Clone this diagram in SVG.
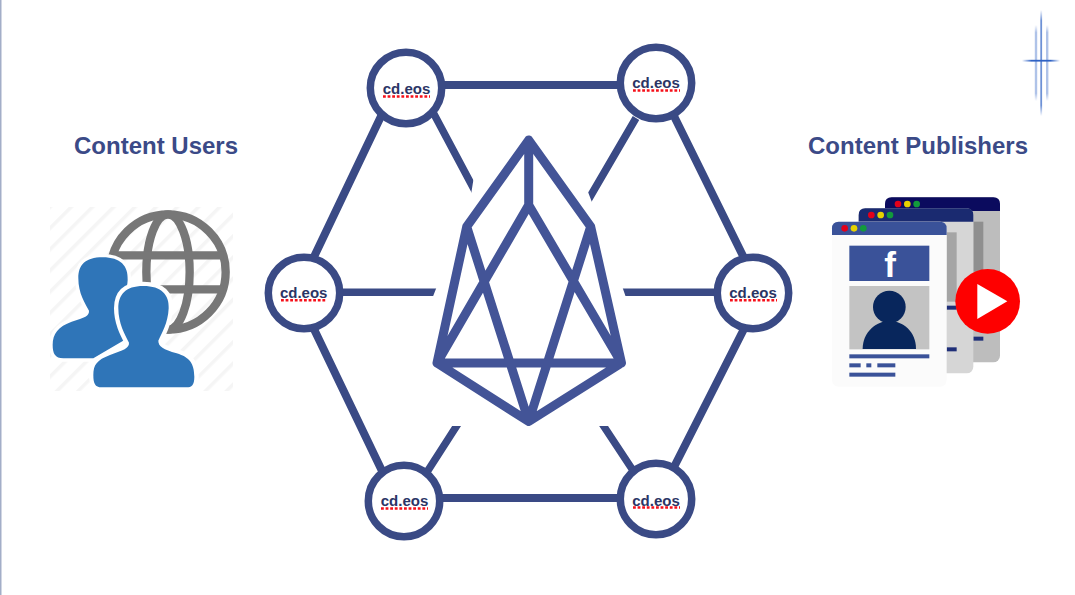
<svg xmlns="http://www.w3.org/2000/svg" width="1075" height="595" viewBox="0 0 1075 595">
<style>
.edge{stroke:#3a4a85;stroke-width:8;fill:none;stroke-linecap:butt}
.spoke{stroke-width:7.500}
.ring{fill:#fff;stroke:#3a4a85;stroke-width:7.500}
.lbl{font:bold 15px "Liberation Sans",Arial,sans-serif;fill:#2b3566;text-anchor:middle}
.squig{stroke:#f5101a;stroke-width:2.500;stroke-dasharray:2.800 1.800;fill:none}
.title{font:bold 24px "Liberation Sans",Arial,sans-serif;fill:#3b4a87;text-anchor:middle}
.eos{fill:none;stroke:#435497;stroke-width:9;stroke-linejoin:round;stroke-linecap:round}
.dotr{fill:#e2001a}.doty{fill:#e6d200}.dotg{fill:#129a3c}
.blue{fill:#3a5299}
</style>
<defs>
<pattern id="hatch" width="15" height="15" patternUnits="userSpaceOnUse" patternTransform="rotate(-45)">
<rect width="15" height="15" fill="#fff"/><rect width="15" height="3.500" fill="#f5f5f5"/>
</pattern>
<linearGradient id="fv" x1="0" y1="0" x2="0" y2="1"><stop offset="0" stop-color="#2f62c4" stop-opacity="0"/><stop offset=".1" stop-color="#2f62c4" stop-opacity=".7"/><stop offset=".9" stop-color="#2f62c4" stop-opacity=".7"/><stop offset="1" stop-color="#2f62c4" stop-opacity="0"/></linearGradient>
<linearGradient id="fh" x1="0" y1="0" x2="1" y2="0"><stop offset="0" stop-color="#2f62c4" stop-opacity="0"/><stop offset=".25" stop-color="#2f62c4"/><stop offset=".75" stop-color="#2f62c4"/><stop offset="1" stop-color="#2f62c4" stop-opacity="0"/></linearGradient>
<clipPath id="spokeclip"><path clip-rule="evenodd" d="M0 0H1075V595H0ZM474 176L470.500 198L436.700 287L432 299L430 426H630L626.500 299L622 286L593 205L586.500 188L528 130Z"/></clipPath>
</defs>
<rect width="1075" height="595" fill="#fff"/>
<rect x="0" y="0" width="1.500" height="595" fill="#a3aec8"/>
<g id="corner-mark">
<rect x="1040.300" y="10" width="1.800" height="106" fill="url(#fv)"/>
<rect x="1034.800" y="25" width="2.400" height="76" fill="url(#fv)" opacity=".55"/>
<rect x="1046" y="25" width="2.400" height="76" fill="url(#fv)" opacity=".55"/>
<rect x="1022" y="59.800" width="38" height="1.800" fill="url(#fh)"/>
</g>
<g id="connectors">
<path class="edge" d="M406 85H656M404 498H656M384 110L312 261M312 325L383 473M671 110L746 262M746 325L673 469"/>
<g clip-path="url(#spokeclip)">
<path class="edge spoke" d="M431 108.500L484 208M636 118L580 214M343 292.300H445M615 292.300H715M463 416L427 472M597 416L634 472"/>
</g>
</g>
<g id="eos-logo">
<path class="eos" d="M528.700 140L466.700 226.700L437 363L528.700 421.500L621.500 363L590.700 226.700ZM528.700 140V205L437 363H621.500L528.700 205M466.700 226.700L528.700 421.500L590.700 226.700"/>
</g>
<g id="node-top-left"><circle class="ring" cx="406" cy="88" r="35.700"/><text class="lbl" x="406.500" y="94">cd.eos</text><path class="squig" d="M383 96.500H430"/></g>
<g id="node-top-right"><circle class="ring" cx="656" cy="83" r="35.700"/><text class="lbl" x="656" y="88">cd.eos</text><path class="squig" d="M633 90.500H680"/></g>
<g id="node-left"><circle class="ring" cx="304" cy="293" r="35.700"/><text class="lbl" x="303.700" y="298">cd.eos</text><path class="squig" d="M281 300.300H327"/></g>
<g id="node-right"><circle class="ring" cx="753" cy="293" r="35.700"/><text class="lbl" x="753" y="298">cd.eos</text><path class="squig" d="M730 300.300H777"/></g>
<g id="node-bottom-left"><circle class="ring" cx="404" cy="501" r="35.700"/><text class="lbl" x="404.500" y="506">cd.eos</text><path class="squig" d="M381 508.500H428"/></g>
<g id="node-bottom-right"><circle class="ring" cx="656" cy="499" r="35.700"/><text class="lbl" x="656" y="506">cd.eos</text><path class="squig" d="M633 507.500H680"/></g>
<g id="content-users">
<text class="title" x="156" y="154">Content Users</text>
<rect x="50" y="207" width="183" height="184" fill="url(#hatch)"/>
<g transform="translate(30 190) scale(.33333)">
<g fill="none" stroke="#777" stroke-width="25">
<circle cx="414" cy="246" r="173"/>
<ellipse cx="414" cy="246" rx="65" ry="173"/>
<path d="M250 196H580M250 298H580"/>
</g>
<path d="M218 202C272 202 295 228 293 270C292 300 280 320 270 340L300 440L190 505L100 505C75 505 68 490 68 465C68 430 85 410 125 395C165 382 178 378 177 362C165 340 145 310 145 265C145 225 165 202 218 202Z" fill="#2f75b8" stroke="#fff" stroke-width="20" paint-order="stroke"/>
<path d="M340 288C395 288 418 315 416 355C414 400 395 430 385 452C385 470 400 478 440 490C480 503 492 520 493 560C493 585 485 592 470 592L215 592C195 592 190 580 190 555C190 525 200 510 240 495C280 480 298 475 297 458C285 435 265 400 265 355C265 315 285 288 340 288Z" fill="#2f75b8" stroke="#fff" stroke-width="26" paint-order="stroke"/>
</g>
</g>
<g id="content-publishers">
<text class="title" x="918" y="154">Content Publishers</text>
<g transform="translate(820 185) scale(.33333)">
<rect x="195" y="37" width="345" height="495" rx="20" fill="#bdbdbd"/>
<path d="M195 78V57Q195 37 215 37H520Q540 37 540 57V78Z" fill="#0b0b5e"/>
<rect x="460" y="110" width="30" height="150" fill="#8f8f8f"/>
<rect x="460" y="455" width="30" height="12" fill="#1f2f78"/>
<circle class="dotr" cx="234" cy="57" r="10"/><circle class="doty" cx="262" cy="57" r="10"/><circle class="dotg" cx="290" cy="57" r="10"/>
<rect x="116" y="70" width="344" height="495" rx="20" fill="#d6d6d6"/>
<path d="M116 110V90Q116 70 136 70H440Q460 70 460 90V110Z" fill="#1a2a70"/>
<rect x="380" y="142" width="30" height="208" fill="#a5a5a5"/>
<rect x="380" y="362" width="30" height="12" fill="#1f2f78"/>
<rect x="380" y="487" width="30" height="12" fill="#1f2f78"/>
<circle class="dotr" cx="154" cy="90" r="10"/><circle class="doty" cx="182" cy="90" r="10"/><circle class="dotg" cx="210" cy="90" r="10"/>
<rect x="36" y="110" width="344" height="495" rx="20" fill="#fbfbfb"/>
<path class="blue" d="M36 150V130Q36 110 56 110H360Q380 110 380 130V150Z"/>
<circle class="dotr" cx="74" cy="130" r="10"/><circle class="doty" cx="102" cy="130" r="10"/><circle class="dotg" cx="130" cy="130" r="10"/>
<rect class="blue" x="88" y="182" width="240" height="106"/>
<text x="210" y="276" font-family="Liberation Sans, Arial, sans-serif" font-weight="bold" font-size="105" fill="#fff" text-anchor="middle">f</text>
<rect x="88" y="303" width="240" height="190" fill="#c3c3c3"/>
<circle cx="208" cy="366" r="49" fill="#08265c"/>
<path d="M128 492C128 440 170 408 208 408C250 408 288 440 288 492Z" fill="#08265c"/>
<rect class="blue" x="88" y="508" width="240" height="12"/>
<rect class="blue" x="88" y="535" width="34" height="12"/>
<rect class="blue" x="139" y="535" width="15" height="12"/>
<rect class="blue" x="172" y="535" width="54" height="12"/>
<rect class="blue" x="88" y="563" width="138" height="12"/>
<circle cx="503" cy="349" r="97" fill="#fe0000"/>
<path d="M472 297L562 349L472 402Z" fill="#fff"/>
</g>
</g>
</svg>
